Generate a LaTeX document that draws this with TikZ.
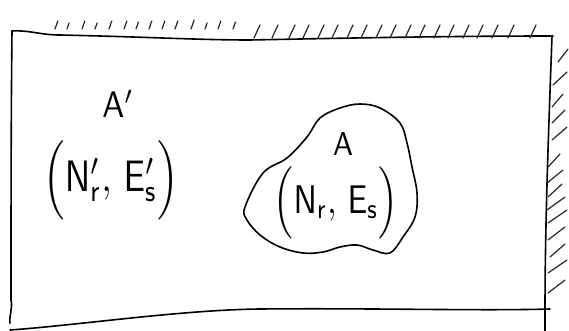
\documentclass[tikz,border=0pt]{standalone}
\usetikzlibrary{calc}
\begin{document}
\begin{tikzpicture}[x=1pt,y=-1pt,
  pen/.style={line width=1.6pt,line cap=round,line join=round,black},
  hatch/.style={line width=1.2pt,line cap=round,black!85},
  lbl/.style={inner sep=0pt}]
\useasboundingbox (0,0) rectangle (569,331);
% box
\draw[pen] (12,31) .. controls (30,30) and (40,35) .. (60,35) .. controls (150,37) and (200,40) .. (250,40) .. controls (350,38) and (450,36) .. (553,36);
\draw[pen] (552,36) .. controls (549,120) and (545,220) .. (545,310) -- (545,331);
\draw[pen] (12,31) .. controls (11,120) and (11,220) .. (11,300) .. controls (13,308) and (9,315) .. (10,323);
\draw[pen] (10,330) .. controls (80,325) and (180,310) .. (260,309) .. controls (380,308) and (480,311) .. (550,309);
% top hatching, left group
\foreach \x/\l in {55/8,67/6,82/8,95/6,109/8,124/8,136/7,149/8,162/8,175/8,191/9,205/6,218/8,233/7}
  \draw[hatch] (\x,29) -- ++(0.35*\l,-\l);
% top hatching, right group
\foreach \x in {254,272,289,303,318,332,347,361,376,390,405,419,434,448,463,477,492,508,530}
  \draw[hatch] (\x,38) -- ++(6,-13);
% right hatching
\foreach \y/\a/\b in {62/558/568,85/553/567,107/552/563,123/552/565,140/552/567,167/548/560,183/547/563,197/548/562,210/547/565,223/548/567,240/548/565,257/550/565,273/548/567,293/548/565}
  \draw[hatch] (\a,\y) -- (\b,\y-13);
% outer system
\node[lbl,xscale=3.3,yscale=3.7] (Ap) at (118,104) {$\mathsf{A}'$};
\node[lbl,xscale=3.6,yscale=4.4] (Tp) at (111,180) {$\Big(\mathsf{N}'_{\mathsf{r}},\,\mathsf{E}'_{\mathsf{s}}\Big)$};
% inner system blob
\draw[pen] plot[smooth cycle,tension=0.6] coordinates {(245,207) (263,173) (287,158) (307,137) (320,118) (340,108) (360,104) (380,108) (400,123) (407,143) (412,167) (417,193) (415,217) (403,237) (390,253) (373,250) (357,245) (340,247) (323,252) (303,253) (280,247) (260,235) (247,220)};
\node[lbl,xscale=3.0,yscale=3.3] (A) at (343,144) {$\mathsf{A}$};
\node[lbl,xscale=3.3,yscale=4.0] (T) at (336,203) {$\Big(\mathsf{N}_{\mathsf{r}},\,\mathsf{E}_{\mathsf{s}}\Big)$};
\end{tikzpicture}
\end{document}
